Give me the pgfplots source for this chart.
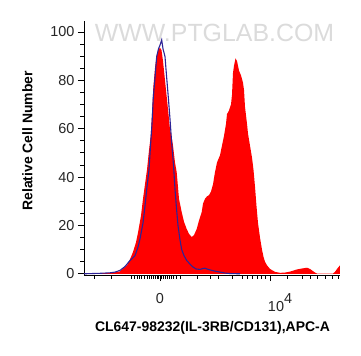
\documentclass[border=0pt]{standalone}
\usepackage{pgfplots}
\pgfplotsset{compat=1.18}
\usepackage{fontspec}
\setmainfont{Liberation Sans}
\definecolor{ctrlblue}{RGB}{45,35,150}
\pgfplotstableread{
x y
84 0
100 0.2
112 0.4
120 1
124 2.5
127 3.5
130 6
133 9
136 13
138 17
141 24
143 31
145 37
147 43
149 51
150.7 57
152 66
153.3 77
155 85
156.5 90
158.3 92.6
160 93.4
161.5 92.5
163 88
165 80
167 72
168.5 66
170 59.7
171.5 57
173 53
175 46
176.7 42
179 31
181.7 25.5
184 21.5
186.7 18.5
189 16.5
191.7 15.2
194 16
196.7 18.5
199 22
201.7 25.5
203 29
205 31
207 32
209 32.5
211 34
213 37
215 42
217 46
220 49
222 53
224 57
226 62
227 66
229 67.5
231 70
232 74
233 83
234 86
235.5 89
237 88
239 84
241 82
243 79
244 76
245 69
247 62
248 58
250 53
252 48
253.5 43
255 36
256.5 28
258 21
260 15
262 10
263.5 7
265 5
267 3.5
270 2
275 0.8
280 0.4
285 0.5
290 0.9
297 1.8
302 2.2
307 2.5
310 2
312 1.4
315 0.5
317 0.1
325 0.05
333 0.1
335 0.8
337 2
339 3
340 3.5
}\sample
\pgfplotstableread{
x y
84 0
100 0.2
110 0.4
115 0.7
120 1.4
125 3
130 5.5
135 7.5
138 11
140 14.4
143 21
145 28
147 36
149 43
150.7 54
152 62
153.3 73
155 81
156.7 89.8
158.5 93
160 94.5
161.7 96.7
163 93
165 89.8
166.5 82
168.3 73
170 64
171.7 54
173.5 45
175 35
176.5 27
178 20
180 14
181.7 10
184 7.5
186.7 5.5
190 4
193 2.8
196 2
200 1.8
203 2.2
205 2.3
207 2
210 1.6
215 1.1
220 0.7
225 0.3
230 0.1
240 0
}\control
\begin{document}
\begin{tikzpicture}
\begin{axis}[
  scale only axis, width=256bp, height=254bp,
  xmin=84, xmax=340, ymin=-0.5, ymax=104.5,
  axis x line*=bottom, axis y line*=left,
  axis line style={black, line width=0.8pt},
  xtick={160,270}, xticklabels={0,{\makebox[0pt][l]{\hspace{-2bp}10\raisebox{8.5bp}{4}}}},
  minor xtick={94,111,131,134,137,139,141,144,147,149,151,153,155,157,158,161,163,165,167,169,171,173,176,180,197,210,218,232,242,247,252,257,261,265,287,302,310,317,325,332,338},
  ytick={0,20,...,100}, minor ytick={5,10,15,25,30,35,45,50,55,65,70,75,85,90,95},
  tick align=outside,
  major tick length=6bp, minor tick length=3.5bp,
  every tick/.style={black, line width=0.7pt},
  ticklabel style={font=\fontsize{14.5}{14.5}\selectfont, text=black!85},
  xticklabel style={yshift=-9bp},
  /pgf/number format/assume math mode=true,
  xlabel={\bfseries CL647-98232(IL-3RB/CD131),APC-A},
  ylabel={\bfseries Relative Cell Number},
  x label style={font=\fontsize{14}{14}\selectfont, at={(axis description cs:0.502,-0.209)}, anchor=center},
  y label style={font=\fontsize{14}{14}\selectfont, at={(axis description cs:-0.221,0.528)}, anchor=center, rotate=0},
  clip=false,
]
\node[text=black!14, font=\fontsize{25}{25}\selectfont, anchor=center] at (axis cs:214.5,99.6) {WWW.PTGLAB.COM};
\addplot[draw=none, fill=red] table[x=x,y=y] \sample \closedcycle;
\addplot[ctrlblue, line width=1.1pt] table[x=x,y=y] \control;
\end{axis}
\pgfresetboundingbox
\path[use as bounding box] (-84bp,-81bp) rectangle (277bp,275bp);
\end{tikzpicture}
\end{document}
